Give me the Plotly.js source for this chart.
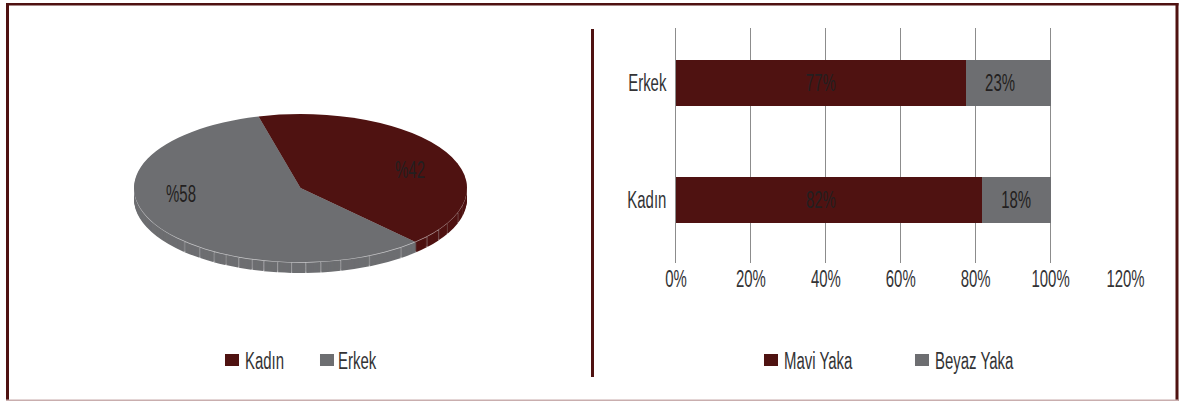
<!DOCTYPE html>
<html><head><meta charset="utf-8">
<script src="https://cdn.plot.ly/plotly-3.0.1.min.js"></script>
<style>html,body{margin:0;padding:0;background:#fff}#c{width:1181px;height:401px}</style>
</head><body><div id="c"></div>
<script>
const pieLabels = ['Kadın', 'Erkek'];
const pieValues = [42, 58];
const barCategories = ['Kadın', 'Erkek'];
const maviYaka = [0.816, 0.773];
const beyazYaka = [0.184, 0.227];
// widths (percent of the circle) of the panels on the pie's rim
const rimKadin = [33.0, 1.6, 2.5, 1.6, 1.8, 1.5];
const rimErkek = [1.9, 3.5, 2.9, 1.9, 1.4, 1.3, 1.3, 1.3, 1.1, 1.3, 1.3, 1.25, 1.6, 1.9, 34.05];
const RED = '#4f1211', GRAY = '#6d6e71', INK = '#231f20', TICK = '#b4b4b6', W = 1181, H = 401;
const FONT = '"Liberation Sans", sans-serif';
const FS = 23, SQUEEZE = 0.65;
const pie = {cx: 300.5, cy: 188, rx: 166.5, ry: 74, depth: 11, startDeg: -14.6};
const dom = {x: [(pie.cx - pie.rx) / W, (pie.cx + pie.rx) / W],
             y: [1 - (pie.cy + pie.rx) / H, 1 - (pie.cy - pie.rx) / H]};
function pieTrace(labels, values, colors, legend) {
  return {type: 'pie', labels: labels, values: values, sort: false, direction: 'clockwise',
    rotation: pie.startDeg, domain: dom, textinfo: 'none', hoverinfo: 'skip', showlegend: legend,
    legend: 'legend', marker: {colors: colors, line: {width: 0}}};
}
const HAIR = 0.08, rimV = [], rimC = [];
[[rimKadin, RED], [rimErkek, GRAY]].forEach(([segs, col]) => segs.forEach((s, i) => {
  rimV.push(s); rimC.push(col);
  if (i < segs.length - 1) { rimV.push(HAIR); rimC.push(TICK); }
}));
const rimL = rimV.map((_, i) => 'r' + i);
const traces = [], offsets = [];
for (let d = pie.depth; d >= 2; d--) { traces.push(pieTrace(rimL, rimV, rimC, false)); offsets.push(d); }
traces.push(pieTrace(pieLabels, pieValues, ['#b9a3a3', '#c9c9cb'], false)); offsets.push(0.7);
traces.push(pieTrace(pieLabels, pieValues, [RED, GRAY], true)); offsets.push(0);
const barText = {family: FONT, size: FS, color: INK};
traces.push({type: 'bar', orientation: 'h', name: 'Mavi Yaka', y: barCategories, x: maviYaka,
  marker: {color: RED, line: {width: 0}}, texttemplate: '%{x:.0%}', textposition: 'inside',
  insidetextanchor: 'middle', insidetextfont: barText, legend: 'legend2', hoverinfo: 'skip'});
traces.push({type: 'bar', orientation: 'h', name: 'Beyaz Yaka', y: barCategories, x: beyazYaka,
  marker: {color: GRAY, line: {width: 0}}, texttemplate: '%{x:.0%}', textposition: 'inside',
  insidetextanchor: 'middle', insidetextfont: barText, legend: 'legend2', hoverinfo: 'skip'});
const frame = (x0, y0, x1, y1, c) => ({type: 'rect', xref: 'paper', yref: 'paper', layer: 'above',
  x0: x0 / W, x1: x1 / W, y0: 1 - y0 / H, y1: 1 - y1 / H, fillcolor: c, line: {width: 0}});
const legendFont = {family: FONT, size: FS, color: '#333335'};
const layout = {
  width: W, height: H, margin: {l: 0, r: 0, t: 0, b: 0}, paper_bgcolor: '#fff', plot_bgcolor: 'rgba(0,0,0,0)',
  barmode: 'stack', bargap: 0.6, font: {family: FONT, size: FS, color: '#333335'},
  xaxis: {domain: [676 / W, 1125.5 / W], range: [0, 1.2], dtick: 0.2, tick0: 0, tickformat: '.0%',
    showgrid: true, gridcolor: '#8c8c8c', gridwidth: 1, zeroline: false, showline: false, ticks: '',
    anchor: 'y', fixedrange: true, tickfont: {family: FONT, size: FS, color: '#333335'}},
  yaxis: {domain: [1 - 263 / H, 1 - 28 / H], type: 'category', range: [-0.538, 1.47],
    showgrid: false, zeroline: false, showline: true, linecolor: '#8c8c8c', linewidth: 1, ticks: '',
    ticklabelstandoff: 4, anchor: 'x', fixedrange: true, tickfont: {family: FONT, size: FS, color: '#333335'}},
  legend: {orientation: 'h', x: 205 / W, xanchor: 'left', y: 1 - 360 / H, yanchor: 'middle',
    font: legendFont, entrywidth: 50, traceorder: 'normal', bgcolor: 'rgba(0,0,0,0)'},
  legend2: {orientation: 'h', x: 744 / W, xanchor: 'left', y: 1 - 360 / H, yanchor: 'middle',
    font: legendFont, entrywidth: 106, traceorder: 'normal', bgcolor: 'rgba(0,0,0,0)'},
  annotations: [
    {text: '%' + pieValues[0], xref: 'paper', yref: 'paper', x: 410 / W, y: 1 - 170 / H, xanchor: 'center', yanchor: 'middle', showarrow: false,
      font: {family: FONT, size: FS, color: INK}},
    {text: '%' + pieValues[1], xref: 'paper', yref: 'paper', x: 181 / W, y: 1 - 194 / H, xanchor: 'center', yanchor: 'middle', showarrow: false,
      font: {family: FONT, size: FS, color: INK}}
  ],
  shapes: [
    frame(6, 3, 1178.5, 5.5, RED), frame(6, 3, 9, 401, RED), frame(1175.5, 3, 1178.5, 401, RED),
    frame(6, 399.5, 1178.5, 401, '#c9aeae'), frame(591, 29, 594, 377, RED)
  ]
};
const legendTextShift = {'Erkek': -2, 'Beyaz': -5};
const barTextShift = {'82%': -8, '23%': -8};
Plotly.newPlot('c', traces, layout, {displayModeBar: false, staticPlot: true}).then(gd => {
  const k = pie.ry / pie.rx;
  gd.querySelectorAll('.pielayer .trace').forEach((g, i) => {
    g.setAttribute('transform', `translate(${pie.cx},${pie.cy + offsets[i]}) scale(1,${k}) translate(${-pie.cx},${-pie.cy})`);
  });
  gd.querySelectorAll('.legendpoints').forEach(p => {
    p.setAttribute('transform', 'translate(27,0) scale(1.167,1) translate(-20,0)');
  });
  gd.querySelectorAll('text.legendtext').forEach(t => {
    const key = Object.keys(legendTextShift).find(s => t.textContent.startsWith(s));
    if (key) t.setAttribute('transform', `translate(${legendTextShift[key]},0)`);
  });
  gd.querySelectorAll('.barlayer text').forEach(t => {
    const dx = barTextShift[t.textContent];
    if (dx) t.setAttribute('transform', `translate(${dx},0) ` + (t.getAttribute('transform') || ''));
  });
  gd.querySelectorAll('svg text').forEach(t => {
    const len = t.getComputedTextLength();
    if (len > 0) {
      t.setAttribute('textLength', (len * SQUEEZE).toFixed(1));
      t.setAttribute('lengthAdjust', 'spacingAndGlyphs');
    }
  });
});
</script></body></html>
